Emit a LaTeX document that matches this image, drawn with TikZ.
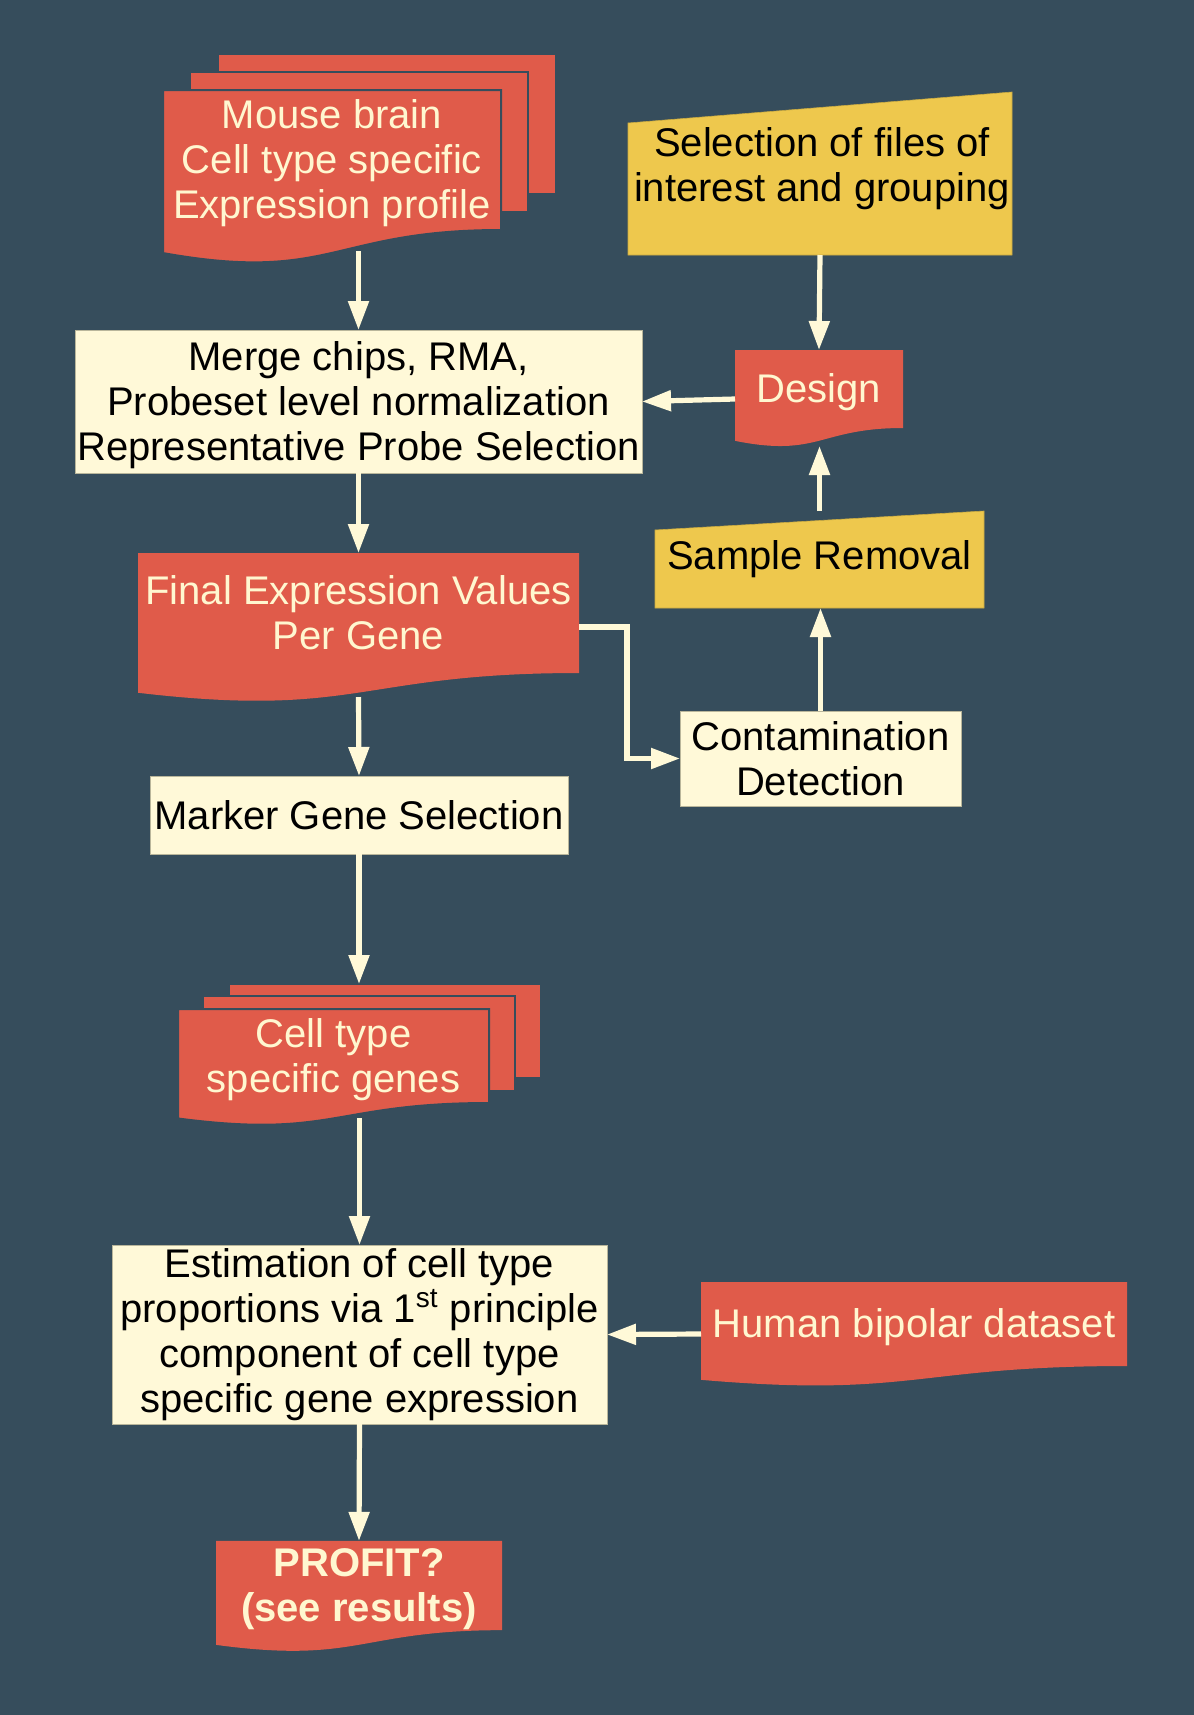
\documentclass[tikz,border=0pt]{standalone}
\usepackage{fontspec}
\setmainfont{Liberation Sans}
\usetikzlibrary{arrows.meta,calc,backgrounds}
\definecolor{bgc}{RGB}{54,77,92}
\definecolor{redc}{RGB}{224,91,74}
\definecolor{yelc}{RGB}{238,200,77}
\definecolor{crm}{RGB}{255,249,216}
\definecolor{crmtxt}{RGB}{255,247,208}
\definecolor{boxline}{RGB}{185,182,155}
% strut that lowers a node's text a little
\newcommand\tdn{\rule{0pt}{18pt}}
% document shape (flowchart "document") under a node spanning its text area
\newcommand\mydoc[2][]{%
  \path[fill=redc,#1] (#2.north west) -- (#2.north east) -- (#2.south east)
    .. controls (#2.south) and ($(#2.south)!-0.381!(#2.north)$) ..
    ($(#2.south west)!-0.1646!(#2.north west)$) -- cycle;}
% manual input shape (sloped top)
\newcommand\myslant[2]{%
  \path[fill=yelc,draw=yelc!85!black,line width=0.3pt]
    ([yshift=-#2]#1.north west) -- (#1.north east) -- (#1.south east) -- (#1.south west) -- cycle;}
\begin{document}
\begin{tikzpicture}[x=0.5pt,y=-0.5pt,
  every node/.style={font=\fontsize{20}{22.5}\selectfont, align=center, inner sep=0pt, outer sep=0pt},
  cbox/.style={draw=boxline, line width=0.5pt, fill=crm, text=black},
  rdoc/.style={text=crmtxt},
  ytext/.style={text=black},
  stackl/.style={fill=redc, draw=bgc, line width=1pt},
  arr/.style={draw=crm, line width=2.6pt, -{Triangle[length=14.5pt,width=10pt]}}]

% ---- nodes ----
\node[rdoc, minimum width=169pt, minimum height=70pt] (mouse) at (332,160)
  {\tdn Mouse brain\\Cell type specific\\Expression profile};
\node[cbox, minimum width=283.5pt, minimum height=71.5pt] (merge) at (358.5,401.5)
  {\tdn Merge chips, RMA,\\Probeset level normalization\\Representative Probe Selection};
\node[rdoc, minimum width=220.5pt, minimum height=60pt] (final) at (358.5,613)
  {Final Expression Values\\Per Gene};
\node[cbox, minimum width=209pt, minimum height=39pt] (marker) at (359,815)
  {Marker Gene Selection};
\node[rdoc, minimum width=155.5pt, minimum height=47pt] (cell) at (333.5,1056)
  {\tdn Cell type\\specific genes};
\node[cbox, minimum width=247.5pt, minimum height=89.5pt] (est) at (359.5,1334.5)
  {Estimation of cell type\\proportions via 1\textsuperscript{st} principle\\component of cell type\\specific gene expression};
\node[rdoc, minimum width=143pt, minimum height=43.5pt, font=\fontsize{20}{22.5}\selectfont\bfseries] (profit) at (359,1585.5)
  {\tdn PROFIT?\\(see results)};
\node[rdoc, minimum width=213pt, minimum height=42pt] (human) at (914,1324)
  {\tdn Human bipolar dataset};
\node[cbox, minimum width=140.5pt, minimum height=47.5pt] (cont) at (820.5,758.5)
  {Contamination\\Detection};
\node[ytext, minimum width=164.5pt, minimum height=48.5pt] (sr) at (819.5,559.5)
  {Sample Removal};
\node[minimum width=192pt, minimum height=81.5pt] (sel) at (820,173.5) {};
\node[ytext] (seltext) at (822,169) {Selection of files of\\interest and grouping};
\node[rdoc, minimum width=84pt, minimum height=39pt] (design) at (819,389)
  {\tdn Design};

% ---- shapes behind the texts ----
\begin{pgfonlayer}{background}
  \fill[bgc] (0,0) rectangle (1194,1715);
  % mouse brain stack
  \node[stackl, minimum width=169pt, minimum height=70pt] (mouseback) at (387,124) {};
  \node[stackl, minimum width=169pt, minimum height=70pt] (mousemid) at (359,142) {};
  \mydoc[draw=bgc,line width=1pt]{mouse}
  % cell type stack
  \node[stackl, minimum width=156pt, minimum height=47pt] (cellback) at (385,1031) {};
  \node[stackl, minimum width=156pt, minimum height=47.5pt] (cellmid) at (359,1043.5) {};
  \mydoc[draw=bgc,line width=1pt]{cell}
  % single documents
  \mydoc{final}
  \mydoc{design}
  \mydoc{human}
  \mydoc{profit}
  % manual inputs
  \myslant{sel}{15.5pt}
  \myslant{sr}{9.5pt}
\end{pgfonlayer}

% ---- connectors ----
\coordinate (mousebot) at ([yshift=-10.5pt]mouse.south);
\draw[arr] (merge.north |- mousebot) -- (merge.north);
\draw[arr] (merge.south) -- (final.north);
\draw[arr] ([yshift=-12pt]final.south) -- (marker.north);
\draw[arr] (marker.south) -- (marker.south |- cellback.north);
\coordinate (cellbot) at ([yshift=-7.5pt]cell.south);
\draw[arr] (est.north |- cellbot) -- (est.north);
\draw[arr] (est.south) -- (profit.north);
\draw[arr] ([yshift=-5pt]human.west) -- (est.east);
\draw[arr] (sel.south) -- (design.north);
\draw[arr] ([yshift=-5pt]design.west) -- (merge.east);
\coordinate (designbot) at ([yshift=-9pt]design.south);
\draw[arr] (sr.north) -- (sr.north |- designbot);
\draw[arr] (cont.north) -- (cont.north |- sr.south);
\draw[arr] ([yshift=-7pt]final.east) -- ++(48,0) |- (cont.west);
\end{tikzpicture}
\end{document}
